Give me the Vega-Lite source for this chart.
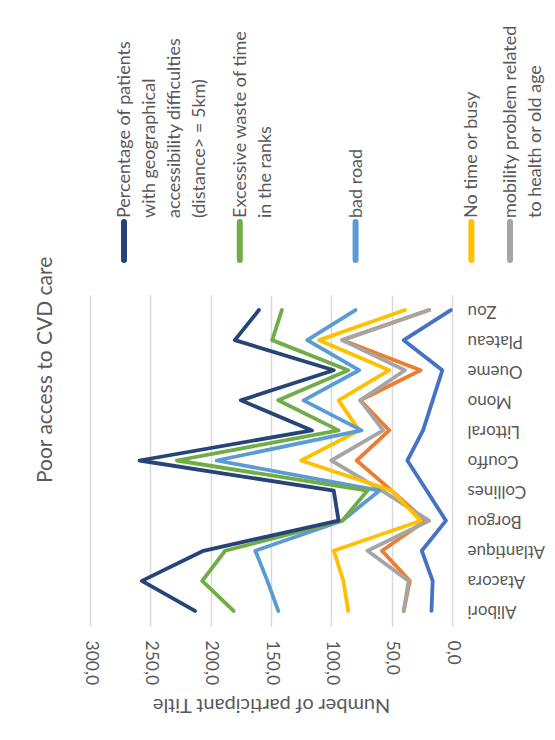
{
  "$schema": "https://vega.github.io/schema/vega-lite/v6.json",
  "background": "white",
  "padding": {"left": 34, "top": 25, "right": 0, "bottom": 30},
  "title": {"text": "Poor access to CVD care", "orient": "left", "anchor": "middle", "font": "Lato", "fontSize": 21, "fontWeight": "normal", "color": "#595959", "offset": 26},
  "config": {"view": {"stroke": null}, "font": "Lato"},
  "spacing": 32,
  "datasets": {
    "legend": [
      {"series": "Percentage of patients with geographical accessibility difficulties (distance> = 5km)", "label": "Percentage of patients\nwith geographical\naccessibility difficulties\n(distance> = 5km)"},
      {"series": "Excessive waste of time in the ranks", "label": "Excessive waste of time\nin the ranks"},
      {"series": "bad road", "label": "bad road"},
      {"series": "No time or busy", "label": "No time or busy"},
      {"series": "mobility problem related to health or old age", "label": "mobility problem related\nto health or old age"}
    ],
    "values": [
      {"series": "Series 1", "dept": "Alibori", "value": 17},
      {"series": "Series 1", "dept": "Atacora", "value": 16},
      {"series": "Series 1", "dept": "Atlantique", "value": 25},
      {"series": "Series 1", "dept": "Borgou", "value": 5},
      {"series": "Series 1", "dept": "Collines", "value": 21},
      {"series": "Series 1", "dept": "Couffo", "value": 37},
      {"series": "Series 1", "dept": "Littoral", "value": 24},
      {"series": "Series 1", "dept": "Mono", "value": 16},
      {"series": "Series 1", "dept": "Oueme", "value": 8},
      {"series": "Series 1", "dept": "Plateau", "value": 40},
      {"series": "Series 1", "dept": "Zou", "value": 1},
      {"series": "Series 2", "dept": "Alibori", "value": 40},
      {"series": "Series 2", "dept": "Atacora", "value": 35},
      {"series": "Series 2", "dept": "Atlantique", "value": 58},
      {"series": "Series 2", "dept": "Borgou", "value": 22},
      {"series": "Series 2", "dept": "Collines", "value": 50},
      {"series": "Series 2", "dept": "Couffo", "value": 79},
      {"series": "Series 2", "dept": "Littoral", "value": 52},
      {"series": "Series 2", "dept": "Mono", "value": 76},
      {"series": "Series 2", "dept": "Oueme", "value": 26},
      {"series": "Series 2", "dept": "Plateau", "value": 91},
      {"series": "Series 2", "dept": "Zou", "value": 19},
      {"series": "mobility problem related to health or old age", "dept": "Alibori", "value": 40},
      {"series": "mobility problem related to health or old age", "dept": "Atacora", "value": 36},
      {"series": "mobility problem related to health or old age", "dept": "Atlantique", "value": 70},
      {"series": "mobility problem related to health or old age", "dept": "Borgou", "value": 19},
      {"series": "mobility problem related to health or old age", "dept": "Collines", "value": 58},
      {"series": "mobility problem related to health or old age", "dept": "Couffo", "value": 100},
      {"series": "mobility problem related to health or old age", "dept": "Littoral", "value": 57},
      {"series": "mobility problem related to health or old age", "dept": "Mono", "value": 76},
      {"series": "mobility problem related to health or old age", "dept": "Oueme", "value": 39},
      {"series": "mobility problem related to health or old age", "dept": "Plateau", "value": 91},
      {"series": "mobility problem related to health or old age", "dept": "Zou", "value": 19},
      {"series": "No time or busy", "dept": "Alibori", "value": 86},
      {"series": "No time or busy", "dept": "Atacora", "value": 90},
      {"series": "No time or busy", "dept": "Atlantique", "value": 98},
      {"series": "No time or busy", "dept": "Borgou", "value": 26},
      {"series": "No time or busy", "dept": "Collines", "value": 50},
      {"series": "No time or busy", "dept": "Couffo", "value": 125},
      {"series": "No time or busy", "dept": "Littoral", "value": 77},
      {"series": "No time or busy", "dept": "Mono", "value": 94},
      {"series": "No time or busy", "dept": "Oueme", "value": 52},
      {"series": "No time or busy", "dept": "Plateau", "value": 110},
      {"series": "No time or busy", "dept": "Zou", "value": 39},
      {"series": "bad road", "dept": "Alibori", "value": 144},
      {"series": "bad road", "dept": "Atacora", "value": 153},
      {"series": "bad road", "dept": "Atlantique", "value": 163},
      {"series": "bad road", "dept": "Borgou", "value": 91},
      {"series": "bad road", "dept": "Collines", "value": 60},
      {"series": "bad road", "dept": "Couffo", "value": 195},
      {"series": "bad road", "dept": "Littoral", "value": 75},
      {"series": "bad road", "dept": "Mono", "value": 123},
      {"series": "bad road", "dept": "Oueme", "value": 77},
      {"series": "bad road", "dept": "Plateau", "value": 120},
      {"series": "bad road", "dept": "Zou", "value": 80},
      {"series": "Excessive waste of time in the ranks", "dept": "Alibori", "value": 181},
      {"series": "Excessive waste of time in the ranks", "dept": "Atacora", "value": 207},
      {"series": "Excessive waste of time in the ranks", "dept": "Atlantique", "value": 188},
      {"series": "Excessive waste of time in the ranks", "dept": "Borgou", "value": 91},
      {"series": "Excessive waste of time in the ranks", "dept": "Collines", "value": 70},
      {"series": "Excessive waste of time in the ranks", "dept": "Couffo", "value": 228},
      {"series": "Excessive waste of time in the ranks", "dept": "Littoral", "value": 94},
      {"series": "Excessive waste of time in the ranks", "dept": "Mono", "value": 144},
      {"series": "Excessive waste of time in the ranks", "dept": "Oueme", "value": 86},
      {"series": "Excessive waste of time in the ranks", "dept": "Plateau", "value": 149},
      {"series": "Excessive waste of time in the ranks", "dept": "Zou", "value": 141},
      {"series": "Percentage of patients with geographical accessibility difficulties (distance> = 5km)", "dept": "Alibori", "value": 213},
      {"series": "Percentage of patients with geographical accessibility difficulties (distance> = 5km)", "dept": "Atacora", "value": 257},
      {"series": "Percentage of patients with geographical accessibility difficulties (distance> = 5km)", "dept": "Atlantique", "value": 206},
      {"series": "Percentage of patients with geographical accessibility difficulties (distance> = 5km)", "dept": "Borgou", "value": 94},
      {"series": "Percentage of patients with geographical accessibility difficulties (distance> = 5km)", "dept": "Collines", "value": 98},
      {"series": "Percentage of patients with geographical accessibility difficulties (distance> = 5km)", "dept": "Couffo", "value": 259},
      {"series": "Percentage of patients with geographical accessibility difficulties (distance> = 5km)", "dept": "Littoral", "value": 116},
      {"series": "Percentage of patients with geographical accessibility difficulties (distance> = 5km)", "dept": "Mono", "value": 175},
      {"series": "Percentage of patients with geographical accessibility difficulties (distance> = 5km)", "dept": "Oueme", "value": 98},
      {"series": "Percentage of patients with geographical accessibility difficulties (distance> = 5km)", "dept": "Plateau", "value": 180},
      {"series": "Percentage of patients with geographical accessibility difficulties (distance> = 5km)", "dept": "Zou", "value": 160}
    ]
  },
  "vconcat": [
    {
      "width": 362,
      "height": 38,
      "data": {"name": "legend"},
      "layer": [
        {
          "mark": {"type": "rule", "strokeWidth": 6, "strokeCap": "round"},
          "encoding": {
            "x": {"field": "series", "type": "nominal", "axis": null,
              "scale": {"type": "point", "padding": 0, "range": [34, 420], "domain": ["Percentage of patients with geographical accessibility difficulties (distance> = 5km)", "_a", "_b", "Excessive waste of time in the ranks", "_c", "_d", "bad road", "_e", "_f", "No time or busy", "mobility problem related to health or old age"]}},
            "y": {"datum": 0, "type": "quantitative", "scale": {"domain": [0, 1]}, "axis": null},
            "y2": {"datum": 1},
            "color": {"field": "series", "type": "nominal", "legend": null,
              "scale": {"domain": ["Series 1", "Series 2", "mobility problem related to health or old age", "No time or busy", "bad road", "Excessive waste of time in the ranks", "Percentage of patients with geographical accessibility difficulties (distance> = 5km)"],
                        "range": ["#4472C4", "#ED7D31", "#A5A5A5", "#FFC000", "#5B9BD5", "#70AD47", "#264478"]}}
          }
        },
        {
          "mark": {"type": "text", "angle": 270, "align": "left", "baseline": "line-top", "lineBreak": "\n", "lineHeight": 25, "fontSize": 18, "font": "Lato", "color": "#595959", "xOffset": -12, "yOffset": -4},
          "encoding": {
            "x": {"field": "series", "type": "nominal", "axis": null},
            "y": {"datum": 1, "type": "quantitative"},
            "text": {"field": "label", "type": "nominal"}
          }
        }
      ]
    },
    {
      "width": 362,
      "height": 331,
      "data": {"name": "values"},
      "mark": {"type": "line", "strokeWidth": 3.8, "strokeJoin": "round", "strokeCap": "round"},
      "encoding": {
        "x": {"field": "value", "type": "quantitative",
          "scale": {"domain": [0, 300], "reverse": true, "nice": false},
          "axis": {"values": [0, 50, 100, 150, 200, 250, 300], "labelExpr": "replace(format(datum.value, '.1f'), '.', ',')",
            "labelAngle": 90, "labelAlign": "left", "labelBaseline": "middle", "labelPadding": 14, "labelFontSize": 17.5, "labelColor": "#595959", "labelFont": "Lato",
            "ticks": false, "domain": false, "grid": true, "gridColor": "#d9d9d9", "gridWidth": 1.5,
            "title": "Number of participant Title", "titleAngle": 180, "titleBaseline": "bottom", "titleFont": "Lato", "titleFontSize": 20, "titleFontWeight": "normal", "titleColor": "#595959", "titlePadding": 10}},
        "y": {"field": "dept", "type": "nominal",
          "sort": ["Zou", "Plateau", "Oueme", "Mono", "Littoral", "Couffo", "Collines", "Borgou", "Atlantique", "Atacora", "Alibori"],
          "scale": {"type": "point", "padding": 0.5},
          "axis": {"orient": "right", "labelAngle": 180, "labelAlign": "right", "labelBaseline": "middle", "labelPadding": 15, "labelFontSize": 17, "labelColor": "#595959", "labelFont": "Lato",
            "ticks": false, "domain": false, "grid": false, "title": null}},
        "color": {"field": "series", "type": "nominal", "legend": null}
      }
    }
  ]
}
